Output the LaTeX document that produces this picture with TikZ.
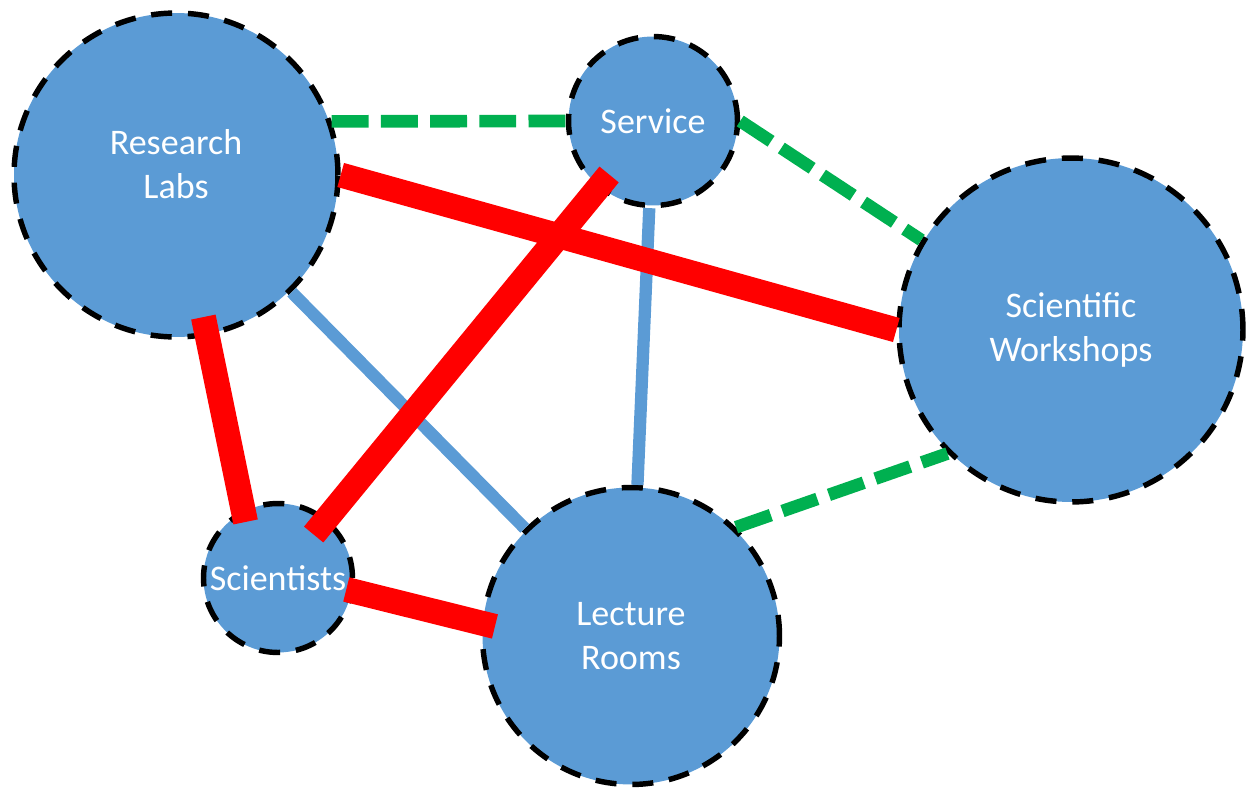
\documentclass[tikz,border=0pt]{standalone}
\usepackage{fontspec}
\setmainfont{Carlito}
\usepackage{tikz}
\usetikzlibrary{positioning}
\definecolor{nodeblue}{HTML}{5B9BD5}
\definecolor{linkgreen}{HTML}{00B050}

\begin{document}
\begin{tikzpicture}[x=0.02cm, y=-0.02cm,
  place/.style={circle, fill=nodeblue, draw=black, line width=3.1pt,
    dash pattern=on 12pt off 9pt, text=white, align=center,
    inner sep=0pt, font=\fontsize{20.5}{25}\selectfont},
  redlink/.style={red, line width=14.2pt},
  greenlink/.style={linkgreen, line width=7.2pt, dash pattern=on 21pt off 7pt},
  bluelink/.style={nodeblue, line width=7pt}]

\useasboundingbox (0,0) rectangle (1251,791);

% places
\node[place, minimum size=6.48cm, text depth=0.45cm] (labs) at (176,175) {Research\\Labs};
\node[place, minimum size=3.38cm] (service) at (653,121) {Service};
\node[place, minimum size=6.88cm] (workshops) at (1071,330) {Scientific\\Workshops};
\node[place, minimum size=2.98cm] (scientists) at (278,578) {Scientists};
\node[place, minimum size=5.94cm] (lecture) at (631,636) {Lecture\\Rooms};

% green links
\draw[greenlink] (labs.19) -- (service.west);
\draw[greenlink] (service.east) -- (workshops.149);
\draw[greenlink] (lecture.46) -- (workshops.225);

% blue links
\draw[bluelink] (labs) -- (lecture);
\draw[bluelink] (service) -- (lecture);

% red links
\draw[redlink] (labs.east) -- (workshops.west);
\draw[redlink, shorten <=-0.4cm, shorten >=-0.26cm] (labs.-79) -- (scientists.117);
\draw[redlink, shorten <=-0.36cm, shorten >=-0.42cm] (service) -- (scientists);
\draw[redlink, shorten <=-0.16cm, shorten >=-0.3cm] (scientists.-10) -- (lecture.175);

\end{tikzpicture}
\end{document}
